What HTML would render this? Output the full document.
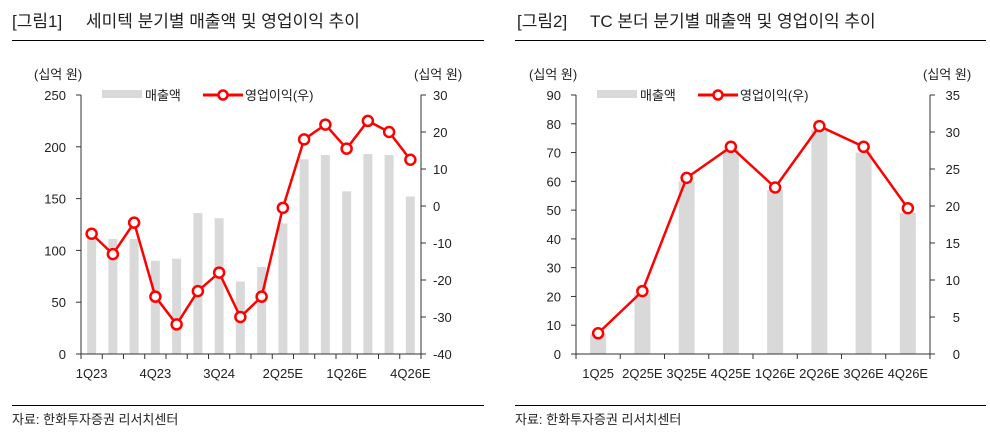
<!DOCTYPE html>
<html><head><meta charset="utf-8"><style>
body{margin:0;background:#fff;}
svg{display:block;font-family:"Liberation Sans","Noto Sans CJK KR",sans-serif;}
</style></head><body>
<svg id="s" width="990" height="434" xmlns="http://www.w3.org/2000/svg">
<rect width="990" height="434" fill="#fff"/>
<text x="12" y="27" font-size="17" fill="#222">[그림1]</text>
<text x="86" y="27" font-size="17" fill="#222">세미텍 분기별 매출액 및 영업이익 추이</text>
<line x1="12" y1="40.5" x2="484" y2="40.5" stroke="#000" stroke-width="1"/>
<text x="517" y="27" font-size="17" fill="#222">[그림2]</text>
<text x="590" y="27" font-size="17" fill="#222">TC 본더 분기별 매출액 및 영업이익 추이</text>
<line x1="515" y1="40.5" x2="986" y2="40.5" stroke="#000" stroke-width="1"/>
<line x1="12" y1="405.5" x2="484" y2="405.5" stroke="#000"/>
<line x1="515" y1="405.5" x2="986" y2="405.5" stroke="#000"/>
<text x="12" y="424" font-size="13" fill="#222">자료: 한화투자증권 리서치센터</text>
<text x="515" y="424" font-size="13" fill="#222">자료: 한화투자증권 리서치센터</text>
<g id="g"></g>
</svg>
<script>
var g=document.getElementById('g'),h='';
function chart(o){
 var L=o.L,R=o.R,T=95,B=354,n=o.bars.length,cw=(R-L)/n;
 h+='<text x="'+(L-47)+'" y="79" font-size="13" fill="#222">(십억 원)</text>';
 h+='<text x="'+(R-7)+'" y="79" font-size="13" fill="#222">(십억 원)</text>';
 // legend
 h+='<rect x="'+(L+21)+'" y="90" width="40" height="8" fill="#d9d9d9"/>';
 h+='<text x="'+(L+64)+'" y="100" font-size="13" fill="#222">매출액</text>';
 h+='<line x1="'+(L+122)+'" y1="95" x2="'+(L+162)+'" y2="95" stroke="#f00" stroke-width="3"/>';
 h+='<circle cx="'+(L+142)+'" cy="95" r="4.5" fill="#fff" stroke="#f00" stroke-width="2.5"/>';
 h+='<text x="'+(L+164)+'" y="100" font-size="13" fill="#222">영업이익(우)</text>';
 for(var i=0;i<n;i++){var v=o.bars[i],y=B-(v/o.lmax)*(B-T);
  h+='<rect x="'+(L+cw*i+cw/2-o.bw/2)+'" y="'+y+'" width="'+o.bw+'" height="'+(B-y)+'" fill="#d9d9d9"/>';}
 // axes
 h+='<line x1="'+L+'" y1="'+T+'" x2="'+L+'" y2="'+B+'" stroke="#333"/>';
 h+='<line x1="'+R+'" y1="'+T+'" x2="'+R+'" y2="'+B+'" stroke="#333"/>';
 h+='<line x1="'+L+'" y1="'+B+'" x2="'+R+'" y2="'+B+'" stroke="#333"/>';
 for(var k=0;k<=o.lt.length-1;k++){var y=B-k*(B-T)/(o.lt.length-1);
  h+='<line x1="'+(L-5)+'" y1="'+y+'" x2="'+L+'" y2="'+y+'" stroke="#333"/>';
  h+='<text x="'+(L-15)+'" y="'+(y+5)+'" font-size="13" fill="#222" text-anchor="end">'+o.lt[k]+'</text>';}
 for(var k=0;k<=o.rt.length-1;k++){var y=B-k*(B-T)/(o.rt.length-1);
  h+='<line x1="'+R+'" y1="'+y+'" x2="'+(R+5)+'" y2="'+y+'" stroke="#333"/>';
  h+='<text x="'+(R+o.rx)+'" y="'+(y+5)+'" font-size="13" fill="#222" text-anchor="'+o.ra+'">'+o.rt[k]+'</text>';}
 for(var i=0;i<=n;i++){var x=L+cw*i;h+='<line x1="'+x+'" y1="'+B+'" x2="'+x+'" y2="'+(B+5)+'" stroke="#333"/>';}
 for(var i=0;i<n;i++){if(o.lab[i])h+='<text x="'+(L+cw*i+cw/2)+'" y="378" font-size="13" fill="#222" text-anchor="middle">'+o.lab[i]+'</text>';}
 var pts=o.op.map(function(v,i){return [L+cw*i+cw/2,B-(v-o.rmin)/(o.rmax-o.rmin)*(B-T)];});
 h+='<polyline points="'+pts.map(function(p){return p.join(',')}).join(' ')+'" fill="none" stroke="#f00" stroke-width="2.5"/>';
 pts.forEach(function(p){h+='<circle cx="'+p[0]+'" cy="'+p[1]+'" r="5" fill="#fff" stroke="#f00" stroke-width="2.5"/>';});
}
chart({L:81,R:421,bw:9,lmax:250,rmin:-40,rmax:30,
 bars:[112,111,111,90,92,136,131,70,84,126,188,192,157,193,192,152],
 op:[-7.5,-13,-4.5,-24.5,-32,-23,-18,-30,-24.5,-0.5,18,22,15.5,23,20,12.5],
 lt:[0,50,100,150,200,250],rt:[-40,-30,-20,-10,0,10,20,30],rx:12,ra:"start",
 lab:['1Q23','','','4Q23','','','3Q24','','','2Q25E','','','1Q26E','','','4Q26E']});
chart({L:576,R:930,bw:16,lmax:90,rmin:0,rmax:35,
 bars:[7,21,60,71,57,78,70,49],
 op:[2.8,8.5,23.8,28,22.5,30.8,28,19.7],
 lt:[0,10,20,30,40,50,60,70,80,90],rt:[0,5,10,15,20,25,30,35],rx:30,ra:"end",
 lab:['1Q25','2Q25E','3Q25E','4Q25E','1Q26E','2Q26E','3Q26E','4Q26E']});
g.innerHTML=h;
</script>
</body></html>
